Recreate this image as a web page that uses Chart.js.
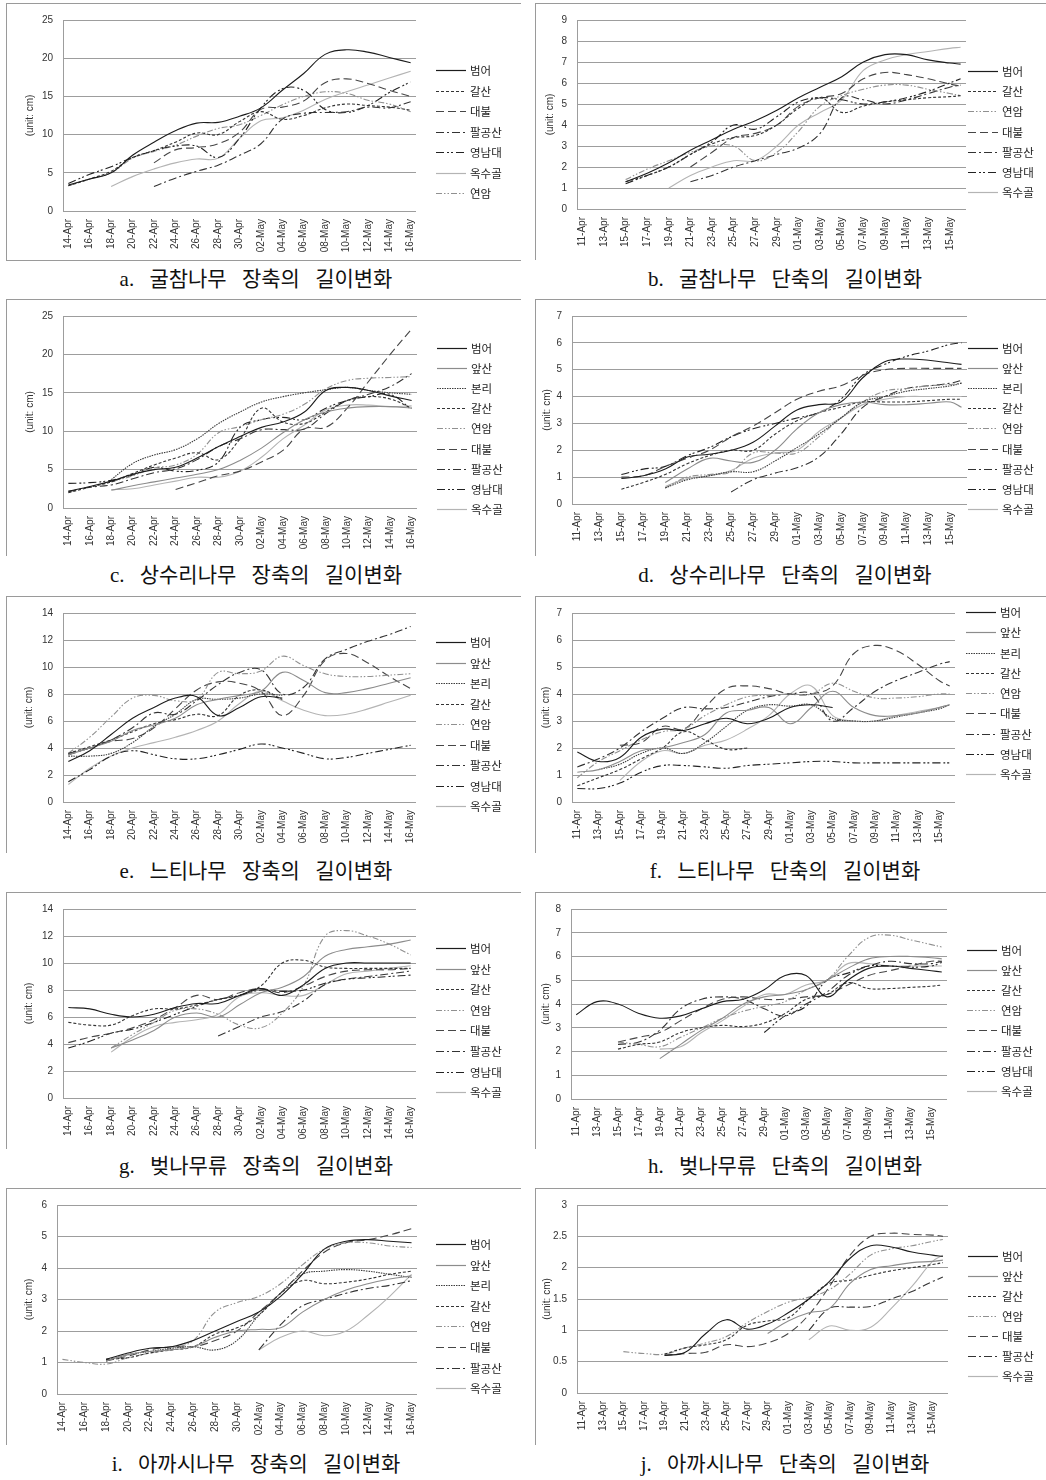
<!DOCTYPE html>
<html>
<head>
<meta charset="utf-8">
<script src="https://cdn.jsdelivr.net/npm/chart.js@4.4.1/dist/chart.umd.min.js"></script>
<style>
  body { margin: 0; background: #fff; width: 1046px; height: 1480px; position: relative; overflow: hidden; }
  .box { position: absolute; border-top: 1px solid #9a9a9a; border-left: 1px solid #9a9a9a; }
  .box canvas { display: block; }
  .cap { position: absolute; width: 520px; height: 28px; line-height: 28px; text-align: center;
         font-family: "Liberation Serif", "Noto Sans CJK KR", serif; font-size: 21px; color: #111;
         word-spacing: 10px; white-space: nowrap; }
</style>
</head>
<body>
<div id="page"></div>
<script>
// daily categories (every 2nd one is labelled)
const daysL = ['14-Apr','15-Apr','16-Apr','17-Apr','18-Apr','19-Apr','20-Apr','21-Apr','22-Apr','23-Apr','24-Apr','25-Apr','26-Apr','27-Apr','28-Apr','29-Apr','30-Apr',
  '01-May','02-May','03-May','04-May','05-May','06-May','07-May','08-May','09-May','10-May','11-May','12-May','13-May','14-May','15-May','16-May'];
const daysR = ['11-Apr','12-Apr','13-Apr','14-Apr','15-Apr','16-Apr','17-Apr','18-Apr','19-Apr','20-Apr','21-Apr','22-Apr','23-Apr','24-Apr','25-Apr','26-Apr','27-Apr','28-Apr','29-Apr','30-Apr',
  '01-May','02-May','03-May','04-May','05-May','06-May','07-May','08-May','09-May','10-May','11-May','12-May','13-May','14-May','15-May','16-May'];

// dates at which values were read
const sampleL = ['14-Apr','16-Apr','18-Apr','20-Apr','22-Apr','24-Apr','26-Apr','28-Apr','30-Apr','02-May','04-May','06-May','08-May','10-May','12-May','14-May','16-May'];
const sampleR = ['11-Apr','13-Apr','15-Apr','17-Apr','19-Apr','21-Apr','23-Apr','25-Apr','27-Apr','29-Apr','01-May','03-May','05-May','07-May','09-May','11-May','13-May','15-May','16-May'];

const _ = null;

// a. 굴참나무 장축
const namesA = ['범어','갈산','대불','팔공산','영남대','옥수골','연암'];
const valuesA = [
  [3.4,4.2,5.0,7.3,9.0,10.5,11.5,11.6,12.4,13.5,15.8,18.0,20.5,21.1,20.8,20.1,19.4],
  [3.3,4.2,5.2,7.0,7.9,9.0,10.2,10.0,11.7,13.0,12.0,12.5,13.5,14.0,13.8,13.6,13.2],
  [_,_,_,_,6.3,8.0,8.3,8.8,10.3,13.3,13.6,14.4,16.8,17.3,16.7,15.8,15.0],
  [_,_,_,_,3.2,4.3,5.2,6.0,7.3,8.8,12.0,12.8,12.9,13.0,13.6,13.5,14.3],
  [3.6,4.8,5.8,7.0,7.9,8.5,8.5,7.0,9.5,13.5,16.0,15.8,13.3,12.9,13.8,15.5,16.9],
  [_,_,3.2,4.5,5.5,6.3,6.8,6.9,9.5,11.8,12.2,13.2,14.6,15.6,16.5,17.4,18.3],
  [3.3,4.2,5.0,6.9,7.8,8.6,9.8,10.8,11.3,12.5,13.9,15.0,15.6,15.4,14.5,14.0,13.0]
];

// b. 굴참나무 단축
const namesB = ['범어','갈산','연암','대불','팔공산','영남대','옥수골'];
const valuesB = [
  [_,_,1.3,1.7,2.2,2.8,3.3,3.8,4.2,4.7,5.3,5.8,6.3,7.0,7.35,7.35,7.1,6.95,6.9],
  [_,_,1.3,1.6,2.0,2.6,3.1,3.4,3.5,4.0,4.8,5.3,4.6,4.9,5.1,5.2,5.3,5.35,5.4],
  [_,_,1.4,1.9,2.3,2.7,3.0,3.0,2.3,2.7,3.7,4.9,5.4,5.7,5.9,5.9,5.7,5.5,5.4],
  [_,_,_,_,_,2.0,2.7,3.4,3.6,4.0,4.9,5.3,5.5,6.2,6.5,6.4,6.2,5.95,5.85],
  [_,_,_,_,_,1.3,1.6,2.0,2.3,2.6,2.9,3.6,5.3,5.2,5.0,5.2,5.5,5.8,5.9],
  [_,_,1.2,1.6,2.0,2.6,3.2,4.0,3.8,4.4,5.1,5.3,5.2,5.0,5.1,5.3,5.6,6.0,6.2],
  [_,_,_,_,1.0,1.6,2.0,2.3,2.3,3.0,4.0,4.6,5.2,6.6,7.1,7.35,7.5,7.65,7.7]
];

// c. 상수리나무 장축
const namesC = ['범어','앞산','본리','갈산','연암','대불','팔공산','영남대','옥수골'];
const valuesC = [
  [2.2,2.8,3.5,4.4,5.0,5.3,6.5,8.0,9.3,10.5,11.2,12.5,15.3,15.7,15.3,14.6,14.0],
  [_,_,2.3,2.9,3.4,3.9,4.4,5.0,6.2,7.8,9.8,11.5,12.5,13.0,13.2,13.2,13.0],
  [_,_,3.7,5.8,6.9,7.6,9.0,11.0,12.5,13.8,14.5,15.0,15.4,15.7,15.3,15.0,14.8],
  [2.0,2.7,3.4,4.5,5.6,6.5,7.2,6.3,9.0,13.0,11.2,11.0,12.5,14.0,14.5,14.2,13.0],
  [_,_,3.4,4.2,5.2,5.6,7.0,9.8,10.6,11.5,12.2,13.5,15.5,16.6,16.9,17.0,17.1],
  [_,_,_,_,_,2.4,3.3,4.2,4.8,6.0,7.5,10.3,10.5,13.0,16.5,20.0,23.3],
  [2.1,2.7,3.0,3.8,4.6,5.1,6.3,8.0,9.0,10.2,10.2,10.3,12.3,14.0,14.8,15.8,17.5],
  [3.2,3.3,3.6,4.3,5.3,4.8,4.9,6.0,10.5,11.5,11.8,11.5,13.0,14.0,14.5,14.8,12.8],
  [_,_,2.4,2.5,3.0,3.5,4.0,4.0,4.8,6.6,9.0,10.8,12.8,13.4,13.4,13.2,13.3]
];

// d. 상수리나무 단축
const namesD = ['범어','앞산','본리','갈산','연암','대불','팔공산','영남대','옥수골'];
const valuesD = [
  [_,_,0.95,1.05,1.3,1.75,1.85,2.0,2.3,2.9,3.5,3.7,3.8,4.7,5.3,5.4,5.35,5.25,5.2],
  [_,_,_,_,0.8,1.3,1.7,1.6,1.55,2.0,2.8,3.4,3.7,3.8,3.7,3.7,3.75,3.8,3.6],
  [_,_,_,_,0.6,0.9,1.05,1.2,1.2,1.6,2.1,2.6,3.2,3.8,4.0,4.2,4.3,4.4,4.5],
  [_,_,0.55,0.8,1.1,1.5,1.8,2.0,2.0,2.6,3.1,3.4,3.6,3.8,3.8,3.8,3.85,3.9,3.9],
  [_,_,_,_,0.6,1.0,1.1,1.2,1.9,1.9,1.9,2.5,3.2,3.8,4.2,4.3,4.4,4.45,4.5],
  [_,_,1.0,1.05,1.4,1.7,2.0,2.5,2.9,3.4,3.9,4.2,4.4,4.8,5.0,5.05,5.05,5.05,5.05],
  [_,_,_,_,_,_,_,0.45,0.9,1.15,1.35,1.75,2.6,3.6,4.0,4.3,4.4,4.5,4.6],
  [_,_,1.1,1.3,1.4,1.8,2.1,2.5,2.8,3.0,3.2,3.4,3.9,4.8,5.2,5.5,5.7,5.95,6.0],
  [_,_,_,_,0.65,0.95,1.05,1.25,1.7,1.9,2.0,2.7,3.2,3.7,3.9,4.0,4.0,4.0,4.0]
];

// e. 느티나무 장축
const namesE = ['범어','앞산','본리','갈산','연암','대불','팔공산','영남대','옥수골'];
const valuesE = [
  [3.0,3.8,5.0,6.2,7.0,7.7,7.8,6.4,7.0,7.8,7.7,_,_,_,_,_,_],
  [3.5,4.0,4.5,5.3,5.7,6.2,7.2,7.6,7.9,8.2,9.6,9.0,8.1,8.1,8.4,8.8,9.2],
  [3.4,3.4,3.6,4.4,5.6,6.5,7.6,7.6,7.7,8.0,7.9,_,_,_,_,_,_],
  [3.6,4.1,4.6,5.2,5.8,6.1,6.5,6.4,7.9,8.3,7.6,_,_,_,_,_,_],
  [3.6,4.8,6.3,7.7,7.9,7.5,7.6,9.6,9.5,9.7,10.8,10.1,9.5,9.3,9.3,9.4,9.5],
  [3.6,4.0,4.5,4.7,5.5,6.9,8.3,8.9,8.8,8.2,6.4,7.9,10.5,11.0,10.3,9.3,8.4],
  [3.5,4.0,4.6,5.5,6.6,6.5,7.5,8.7,9.6,9.8,8.0,8.5,10.6,11.3,11.9,12.4,13.0],
  [1.5,2.4,3.4,3.8,3.5,3.2,3.2,3.5,3.9,4.3,4.0,3.6,3.2,3.3,3.6,3.9,4.2],
  [1.3,2.5,3.4,4.0,4.4,4.8,5.3,6.0,7.3,8.2,7.5,6.8,6.4,6.5,6.9,7.4,7.9]
];

// f. 느티나무 단축
const namesF = ['범어','앞산','본리','갈산','연암','대불','팔공산','영남대','옥수골'];
const valuesF = [
  [1.85,1.5,1.65,2.4,2.7,2.65,2.9,3.1,2.9,3.1,3.5,3.6,3.5,_,_,_,_,_,_],
  [1.1,1.2,1.5,1.9,2.0,2.2,2.5,3.3,3.4,3.5,2.9,3.5,4.1,3.5,3.2,3.2,3.3,3.5,3.6],
  [_,1.2,1.4,1.8,2.0,1.8,2.2,2.8,3.4,3.6,3.55,3.6,3.1,3.0,3.0,3.15,3.3,3.45,3.6],
  [0.6,0.9,1.2,1.6,2.0,2.6,2.3,1.95,2.0,_,_,_,_,_,_,_,_,_,_],
  [0.9,1.5,1.9,2.3,2.6,2.7,3.2,3.6,3.9,3.95,4.0,4.0,4.4,4.1,3.85,3.85,3.9,4.0,4.0],
  [_,_,2.1,2.2,2.8,2.7,3.5,4.2,4.3,4.2,4.0,4.0,4.3,5.5,5.8,5.6,5.1,4.5,4.3],
  [1.3,1.6,2.0,2.6,3.1,3.5,3.45,3.5,3.7,3.9,4.0,4.0,3.0,3.5,4.1,4.5,4.8,5.1,5.2],
  [0.5,0.5,0.7,1.1,1.35,1.35,1.3,1.25,1.35,1.4,1.45,1.5,1.5,1.45,1.45,1.45,1.45,1.45,1.45],
  [_,_,0.8,1.5,1.9,1.8,2.1,2.3,2.7,3.2,4.0,4.3,3.2,3.0,3.0,3.2,3.35,3.5,3.6]
];

// g. 벚나무류 장축
const namesG = ['범어','앞산','갈산','연암','대불','팔공산','영남대','옥수골'];
const valuesG = [
  [6.7,6.6,6.2,6.0,6.2,6.7,7.0,7.0,7.6,8.1,7.6,8.4,9.6,10.0,10.0,10.0,10.0],
  [_,_,3.7,4.3,5.0,6.0,6.3,6.0,6.9,7.8,8.2,9.0,10.5,11.0,11.2,11.4,11.7],
  [5.6,5.4,5.4,6.1,6.6,6.6,6.9,7.3,7.6,8.3,10.0,10.2,9.7,9.6,9.6,9.6,9.6],
  [_,_,3.7,4.7,5.6,6.5,6.6,6.2,5.4,5.2,6.3,8.3,12.0,12.4,12.0,11.4,10.6],
  [4.1,4.5,4.8,5.2,5.8,6.7,7.6,7.3,7.8,8.1,7.8,8.3,9.0,9.4,9.5,9.5,9.6],
  [_,_,_,_,_,_,_,4.6,5.3,6.0,6.4,7.2,8.4,8.8,9.0,9.2,9.4],
  [3.7,4.2,4.8,5.1,5.6,6.2,6.8,7.3,7.6,8.0,7.9,8.0,8.5,8.8,8.9,9.0,9.1],
  [_,_,3.4,4.5,5.3,5.6,5.8,6.2,7.5,7.8,7.6,7.6,8.4,9.2,9.4,9.6,9.8]
];

// h. 벚나무류 단축
const namesH = ['범어','앞산','갈산','연암','대불','팔공산','영남대','옥수골'];
const valuesH = [
  [3.55,4.1,4.0,3.6,3.4,3.5,3.8,4.1,4.2,4.6,5.2,5.2,4.3,5.0,5.5,5.6,5.5,5.4,5.35],
  [_,_,_,_,1.7,2.3,2.9,3.4,4.0,4.3,4.4,4.6,5.0,5.5,5.9,6.0,6.0,5.95,5.9],
  [_,_,2.1,2.3,2.4,2.8,3.0,3.1,3.05,3.2,3.6,4.2,4.4,4.9,4.65,4.65,4.7,4.75,4.8],
  [_,_,2.4,2.3,2.2,2.6,3.0,3.4,3.7,3.9,4.1,4.6,5.0,6.0,6.8,6.9,6.7,6.5,6.4],
  [_,_,2.4,2.6,2.8,3.3,3.8,4.2,4.3,4.2,4.2,4.3,4.4,4.8,5.2,5.4,5.6,5.8,5.8],
  [_,_,2.3,2.4,2.9,3.8,4.2,4.3,4.2,3.8,3.5,4.0,4.5,5.2,5.6,5.8,5.7,5.7,5.8],
  [_,_,_,_,_,_,_,_,_,2.8,3.5,3.9,5.0,5.3,5.6,5.6,5.55,5.6,5.75],
  [_,_,_,_,2.1,2.2,2.8,3.3,3.9,4.4,4.4,4.8,5.0,5.7,5.7,5.6,5.6,5.6,5.6]
];

// i. 아까시나무 장축
const namesI = ['범어','앞산','본리','갈산','연암','대불','팔공산','옥수골'];
const valuesI = [
  [_,_,1.1,1.3,1.45,1.5,1.7,2.0,2.3,2.6,3.1,3.8,4.6,4.85,4.9,4.85,4.8],
  [_,_,1.05,1.25,1.35,1.4,1.5,1.8,2.0,2.05,2.1,2.6,3.0,3.3,3.5,3.65,3.75],
  [_,_,1.05,1.25,1.35,1.45,1.5,1.4,1.7,2.5,3.2,3.8,3.9,3.95,3.9,3.8,3.7],
  [_,_,1.1,1.15,1.3,1.4,1.5,1.9,2.1,2.5,3.2,3.6,3.5,3.55,3.65,3.8,3.9],
  [1.1,1.0,0.95,1.15,1.3,1.45,1.7,2.6,2.9,3.1,3.5,4.1,4.6,4.8,4.8,4.7,4.65],
  [_,_,1.05,1.2,1.4,1.5,1.5,1.7,2.0,2.6,3.2,3.9,4.5,4.8,4.9,5.05,5.25],
  [_,_,_,_,_,_,_,_,_,1.4,2.2,2.8,3.0,3.2,3.35,3.45,3.6],
  [_,_,_,_,_,_,_,_,_,1.4,1.8,2.0,1.85,2.0,2.5,3.1,3.8]
];

// j. 아까시나무 단축
const namesJ = ['범어','앞산','갈산','연암','대불','팔공산','옥수골'];
const valuesJ = [
  [_,_,_,_,0.6,0.65,0.95,1.17,1.02,1.1,1.28,1.5,1.78,2.15,2.35,2.33,2.25,2.2,2.18],
  [_,_,_,_,_,_,_,_,_,0.95,1.15,1.28,1.35,1.75,1.97,2.03,2.08,2.1,2.12],
  [_,_,_,_,0.62,0.72,0.77,0.85,1.08,1.15,1.2,1.5,1.75,1.8,1.88,1.95,2.0,2.05,2.08],
  [_,_,0.66,0.63,0.62,0.72,0.8,0.9,1.12,1.3,1.45,1.53,1.65,1.9,2.2,2.3,2.35,2.42,2.45],
  [_,_,_,_,0.6,0.63,0.65,0.77,0.74,0.8,0.95,1.25,1.7,2.2,2.5,2.55,2.53,2.52,2.5],
  [_,_,_,_,_,_,_,_,_,_,_,1.0,1.35,1.37,1.38,1.5,1.62,1.78,1.85],
  [_,_,_,_,_,_,_,_,_,_,_,0.85,1.07,1.0,1.05,1.35,1.7,2.1,2.2]
];

// line look per site
const STYLE = {
  '범어':   { c: '#1c1c1c', d: [] },
  '앞산':   { c: '#8c8c8c', d: [] },
  '본리':   { c: '#3c3c3c', d: [1.5, 1] },
  '갈산':   { c: '#333333', d: [3, 2] },
  '연암':   { c: '#909090', d: [6, 2, 1.5, 2, 1.5, 2] },
  '대불':   { c: '#464646', d: [8, 4] },
  '팔공산': { c: '#333333', d: [8, 3, 2, 3] },
  '영남대': { c: '#222222', d: [8, 3, 2, 2, 2, 3] },
  '옥수골': { c: '#b4b4b4', d: [] }
};

// layout: box position, plot rect inside canvas, legend and y-title placement
const panels = [
  { id:'a', cap:'a. 굴참나무 장축의 길이변화', col:0, row:0, days:daysL, dates:sampleL, names:namesA, values:valuesA, max:25, step:5,
    plot:{l:56,r:409,t:11,b:207}, leg:{x:429,y:66,gap:20.5}, tx:23 },
  { id:'b', cap:'b. 굴참나무 단축의 길이변화', col:1, row:0, days:daysR, dates:sampleR, names:namesB, values:valuesB, max:9, step:1,
    plot:{l:41,r:430,t:14,b:205}, leg:{x:432,y:67,gap:20.2}, tx:14 },
  { id:'c', cap:'c. 상수리나무 장축의 길이변화', col:0, row:1, days:daysL, dates:sampleL, names:namesC, values:valuesC, max:25, step:5,
    plot:{l:56,r:410,t:12,b:208}, leg:{x:430,y:48,gap:20.1}, tx:23 },
  { id:'d', cap:'d. 상수리나무 단축의 길이변화', col:1, row:1, days:daysR, dates:sampleR, names:namesD, values:valuesD, max:7, step:1,
    plot:{l:36,r:431,t:11,b:204}, leg:{x:432,y:48,gap:20.1}, tx:11 },
  { id:'e', cap:'e. 느티나무 장축의 길이변화', col:0, row:2, days:daysL, dates:sampleL, names:namesE, values:valuesE, max:14, step:2,
    plot:{l:56,r:409,t:11,b:205}, leg:{x:429,y:45,gap:20.5}, tx:22 },
  { id:'f', cap:'f. 느티나무 단축의 길이변화', col:1, row:2, days:daysR, dates:sampleR, names:namesF, values:valuesF, max:7, step:1,
    plot:{l:36,r:419,t:10,b:205}, leg:{x:430,y:15,gap:20.25}, tx:10 },
  { id:'g', cap:'g. 벚나무류 장축의 길이변화', col:0, row:3, days:daysL, dates:sampleL, names:namesG, values:valuesG, max:14, step:2,
    plot:{l:56,r:409,t:11,b:205}, leg:{x:429,y:55,gap:20.6}, tx:22 },
  { id:'h', cap:'h. 벚나무류 단축의 길이변화', col:1, row:3, days:daysR, dates:sampleR, names:namesH, values:valuesH, max:8, step:1,
    plot:{l:35,r:411,t:13,b:206}, leg:{x:431,y:57,gap:20.1}, tx:10 },
  { id:'i', cap:'i. 아까시나무 장축의 길이변화', col:0, row:4, days:daysL, dates:sampleL, names:namesI, values:valuesI, max:6, step:1,
    plot:{l:50,r:410,t:10,b:205}, leg:{x:429,y:55,gap:20.6}, tx:22 },
  { id:'j', cap:'j. 아까시나무 단축의 길이변화', col:1, row:4, days:daysR, dates:sampleR, names:namesJ, values:valuesJ, max:3, step:0.5,
    plot:{l:41,r:412,t:13,b:204}, leg:{x:432,y:67,gap:20}, tx:11 }
];

const rowTop = [3, 299, 596, 892, 1188];
const capY = [279, 575, 871, 1166, 1464];
const colLeft = [6, 535];
const colW = [514, 510];
const capX = [256, 785];
const BOX_H = 256;

const sideLegend = {
  id: 'sideLegend',
  afterDraw(chart, args, o) {
    const ctx = chart.ctx;
    ctx.save();
    ctx.font = '11.5px "Noto Sans CJK KR", sans-serif';
    ctx.textBaseline = 'middle';
    chart.data.datasets.forEach((ds, i) => {
      const y = Math.round(o.y + i * o.gap) + 0.5;
      ctx.strokeStyle = ds.borderColor;
      ctx.lineWidth = 1.2;
      ctx.setLineDash(ds.borderDash || []);
      ctx.beginPath();
      ctx.moveTo(o.x, y);
      ctx.lineTo(o.x + 30, y);
      ctx.stroke();
      ctx.setLineDash([]);
      ctx.fillStyle = '#222';
      ctx.fillText(ds.label, o.x + 34, y);
    });
    ctx.restore();
  }
};

const page = document.getElementById('page');
const tickFont = { family: '"Liberation Sans", Arial, sans-serif', size: 10 };

panels.forEach(p => {
  const W = colW[p.col], H = BOX_H;
  const box = document.createElement('div');
  box.className = 'box';
  box.style.left = colLeft[p.col] + 'px';
  box.style.top = rowTop[p.row] + 'px';
  box.style.width = W + 'px';
  box.style.height = H + 'px';
  if (p.id === 'a') box.style.borderBottom = '1px solid #9a9a9a';
  const cv = document.createElement('canvas');
  cv.width = W; cv.height = H;
  cv.style.width = W + 'px'; cv.style.height = H + 'px';
  box.appendChild(cv);
  page.appendChild(box);

  const cap = document.createElement('div');
  cap.className = 'cap';
  cap.textContent = p.cap;
  cap.style.left = (capX[p.col] - 260) + 'px';
  cap.style.top = (capY[p.row] - 14) + 'px';
  page.appendChild(cap);

  const datasets = p.names.map((n, i) => ({
    label: n,
    data: p.dates.map((d, j) => ({ x: d, y: p.values[i][j] })).filter(pt => pt.y !== null),
    borderColor: STYLE[n].c,
    borderDash: STYLE[n].d,
    borderWidth: 1.1,
    pointRadius: 0,
    tension: 0.4,
    fill: false
  }));

  new Chart(cv, {
    type: 'line',
    data: { labels: p.days, datasets },
    options: {
      responsive: false,
      animation: false,
      devicePixelRatio: 1,
      layout: { padding: { left: 0, right: W - p.plot.r, top: p.plot.t, bottom: 0 } },
      plugins: {
        legend: { display: false },
        tooltip: { enabled: false },
        sideLegend: p.leg
      },
      scales: {
        x: {
          type: 'category',
          offset: true,
          grid: { display: false, drawTicks: false },
          border: { display: false },
          ticks: {
            autoSkip: false, minRotation: 90, maxRotation: 90, padding: 8,
            font: tickFont, color: '#333',
            callback(v, i) { return i % 2 === 0 ? this.getLabelForValue(v) : ''; }
          },
          afterFit(s) { s.height = H - p.plot.b; }
        },
        y: {
          min: 0, max: p.max,
          grid: { color: '#9d9d9d', drawTicks: false },
          border: { color: '#9d9d9d' },
          ticks: { stepSize: p.step, padding: 10, font: { family: tickFont.family, size: 10 }, color: '#333',
                   callback: v => String(v) },
          title: { display: true, text: '(unit: cm)', color: '#333',
                   font: { family: tickFont.family, size: 10 }, padding: { top: p.tx - 6, bottom: 0 } },
          afterFit(s) { s.width = p.plot.l; }
        }
      }
    },
    plugins: [sideLegend]
  });
});
</script>
</body>
</html>
